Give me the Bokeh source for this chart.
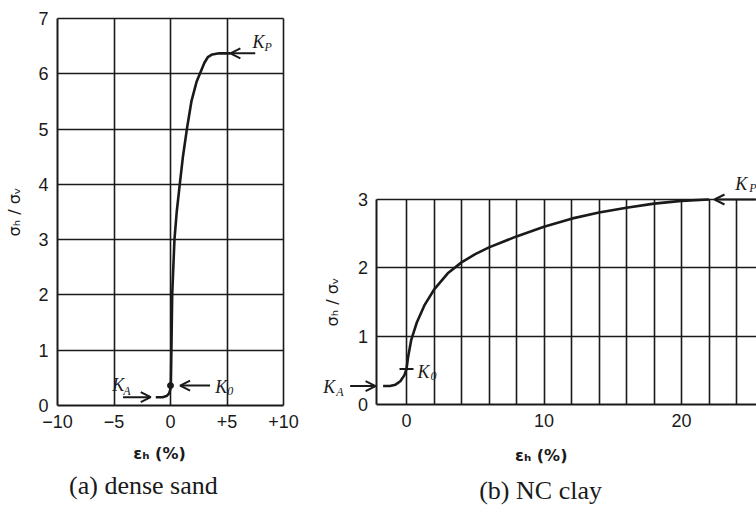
from bokeh.plotting import figure
from bokeh.layouts import row
from bokeh.models import FixedTicker, Label, Arrow, OpenHead, Range1d, Grid
from bokeh.embed import file_html
from bokeh.resources import INLINE

# ---------------- data ----------------
# (a) dense sand
sand_strain = [-1.3, -0.7, -0.35, -0.12, 0.0, 0.03, 0.08, 0.15, 0.25, 0.35,
               0.55, 0.82, 1.1, 1.45, 1.85, 2.3, 2.7, 3.0, 3.3, 3.7, 4.3, 5.3]
sand_ratio = [0.15, 0.15, 0.17, 0.22, 0.30, 0.36, 1.0, 2.0, 2.5, 3.0,
              3.5, 4.0, 4.5, 5.0, 5.5, 5.85, 6.05, 6.2, 6.3, 6.35, 6.37, 6.37]
sand_K0 = [0.0, 0.36]
sand_KA = 0.15
sand_KP = 6.37
sand_x_ticks = [-10, -5, 0, 5, 10]
sand_x_tick_labels = ["\u221210", "\u22125", "0", "+5", "+10"]
sand_y_ticks = [0, 1, 2, 3, 4, 5, 6, 7]

# (b) NC clay
clay_strain = [-1.7, -1.2, -0.8, -0.45, -0.15, 0.0, 0.12, 0.35, 0.75, 1.3,
               2.0, 3.0, 4.0, 5.0, 6.0, 8.0, 10.0, 12.0, 14.0, 16.0, 18.0, 20.0, 22.0]
clay_ratio = [0.27, 0.27, 0.29, 0.34, 0.43, 0.52, 0.70, 0.95, 1.2, 1.45,
              1.68, 1.92, 2.08, 2.2, 2.3, 2.46, 2.6, 2.72, 2.81, 2.88, 2.94, 2.98, 3.0]
clay_K0 = [0.0, 0.52]
clay_KA = 0.27
clay_KP = 3.0
clay_x_ticks = [0, 10, 20]
clay_x_grid = [0, 2, 4, 6, 8, 10, 12, 14, 16, 18, 20, 22, 24]
clay_y_ticks = [0, 1, 2, 3]
clay_x_min = -2.15

INK = "#1a1a1a"
TICK_FONT = "Liberation Sans"
SERIF = "Liberation Serif"
AX_FONT = "DejaVu Sans"
HAS_CROSS = "cross_bounds" in Grid.properties()


def style_axes(p):
    for ax in (p.xaxis[0], p.yaxis[0]):
        ax.major_tick_line_color = None
        ax.minor_tick_line_color = None
        ax.major_tick_out = 0
        ax.major_tick_in = 0
        ax.minor_tick_out = 0
        ax.minor_tick_in = 0
        ax.axis_line_color = INK
        ax.axis_line_width = 2
        ax.major_label_text_font = TICK_FONT
        ax.major_label_text_font_size = "18px"
        ax.major_label_text_color = INK
        ax.axis_label_text_font = AX_FONT
        ax.axis_label_text_font_size = "16px"
        ax.axis_label_text_font_style = "normal"
        ax.axis_label_text_color = INK
    p.xaxis.major_label_standoff = 9
    p.yaxis.major_label_standoff = 9
    p.outline_line_color = None


def grid_lines(p, xticks, yticks, xb, yb):
    if HAS_CROSS:
        p.xgrid.ticker = FixedTicker(ticks=xticks)
        p.ygrid.ticker = FixedTicker(ticks=yticks)
        p.xgrid.bounds = xb
        p.ygrid.bounds = yb
        p.xgrid.cross_bounds = yb
        p.ygrid.cross_bounds = xb
        for g in (p.xgrid, p.ygrid):
            g.grid_line_color = INK
            g.grid_line_width = 1.6
            g.grid_line_alpha = 1
    else:
        p.xgrid.visible = False
        p.ygrid.visible = False
        p.segment(x0=xticks, y0=[yb[0]] * len(xticks), x1=xticks, y1=[yb[1]] * len(xticks),
                  line_color=INK, line_width=1.6)
        p.segment(x0=[xb[0]] * len(yticks), y0=yticks, x1=[xb[1]] * len(yticks), y1=yticks,
                  line_color=INK, line_width=1.6)


def k_label(p, x, y, sub, size="18px", sub_size="12px", dx=12, dy=-5):
    p.add_layout(Label(x=x, y=y, text="K", text_font=SERIF, text_font_style="italic",
                       text_font_size=size, text_color=INK, text_align="left",
                       text_baseline="middle"))
    p.add_layout(Label(x=x, y=y, x_offset=dx, y_offset=dy, text=sub, text_font=SERIF,
                       text_font_style="italic", text_font_size=sub_size, text_color=INK,
                       text_align="left", text_baseline="middle"))


def arrow(p, x0, x1, y):
    p.add_layout(Arrow(end=OpenHead(size=10, line_width=2, line_color=INK),
                       x_start=x0, y_start=y, x_end=x1, y_end=y,
                       line_width=2, line_color=INK))


def text(p, x, y, s, font, size, style="normal"):
    p.add_layout(Label(x=x, y=y, text=s, text_font=font, text_font_size=size,
                       text_font_style=style, text_color=INK, text_align="center",
                       text_baseline="middle"))


# ---------------- (a) dense sand ----------------
# frame fills the whole canvas; axes are pinned at the data edges
pa = figure(width=320, height=508,
            x_range=Range1d(-10 - 57 / 11.3, 10 + 37 / 11.3),
            y_range=Range1d(-103 / 55.286, 7 + 18 / 55.286),
            output_backend="svg", toolbar_location=None,
            min_border_left=0, min_border_right=0, min_border_top=0, min_border_bottom=0,
            background_fill_color="white", border_fill_color="white")
pa.frame_align = False
style_axes(pa)
pa.xaxis.fixed_location = 0
pa.yaxis.fixed_location = sand_x_ticks[0]
pa.xaxis.bounds = (sand_x_ticks[0], sand_x_ticks[-1])
pa.yaxis.bounds = (sand_y_ticks[0], sand_y_ticks[-1])
pa.xaxis.ticker = FixedTicker(ticks=sand_x_ticks)
pa.xaxis.major_label_overrides = {t: l for t, l in zip(sand_x_ticks, sand_x_tick_labels)}
pa.yaxis.ticker = FixedTicker(ticks=sand_y_ticks)
pa.yaxis.axis_label = "\u03c3\u2095 / \u03c3\u1d65"
pa.yaxis.axis_label_standoff = 11
grid_lines(pa, sand_x_ticks[1:], sand_y_ticks[1:],
           (sand_x_ticks[0], sand_x_ticks[-1]), (sand_y_ticks[0], sand_y_ticks[-1]))

pa.line(sand_strain, sand_ratio, line_color=INK, line_width=2.6)
pa.scatter([sand_K0[0]], [sand_K0[1]], size=6, color=INK)

arrow(pa, 7.5, 5.3, sand_KP)
arrow(pa, 3.5, 0.85, sand_K0[1])
arrow(pa, -4.2, -1.75, sand_KA)
k_label(pa, 7.25, 6.57, "P")
k_label(pa, 3.95, 0.33, "0", dx=12, dy=-4)
k_label(pa, -5.15, 0.37, "A", dx=11, dy=-6)

text(pa, -0.97, -0.87, "\u03b5\u2095 (%)", AX_FONT, "16px", "bold")
text(pa, -2.4, -1.45, "(a) dense sand", SERIF, "26px")

# ---------------- (b) NC clay ----------------
pb = figure(width=436, height=508,
            x_range=Range1d(-86 / 13.75, 350 / 13.75),
            y_range=Range1d(-104 / 68.333, 404 / 68.333),
            output_backend="svg", toolbar_location=None,
            min_border_left=0, min_border_right=0, min_border_top=0, min_border_bottom=0,
            background_fill_color="white", border_fill_color="white")
pb.frame_align = False
style_axes(pb)
x_end_b = 350 / 13.75
pb.xaxis.fixed_location = 0
pb.yaxis.fixed_location = clay_x_min
pb.xaxis.bounds = (clay_x_min, x_end_b)
pb.yaxis.bounds = (clay_y_ticks[0], clay_y_ticks[-1])
pb.xaxis.ticker = FixedTicker(ticks=clay_x_ticks)
pb.yaxis.ticker = FixedTicker(ticks=clay_y_ticks)
pb.yaxis.axis_label = "\u03c3\u2095 / \u03c3\u1d65"
pb.yaxis.axis_label_standoff = 12
grid_lines(pb, clay_x_grid, clay_y_ticks[1:],
           (clay_x_min, x_end_b), (clay_y_ticks[0], clay_y_ticks[-1]))

pb.line(clay_strain, clay_ratio, line_color=INK, line_width=2.6)
pb.scatter([clay_K0[0]], [clay_K0[1]], marker="dash", size=14, line_width=2, color=INK)

arrow(pb, 25.4, 22.4, clay_KP)
arrow(pb, -4.1, -2.25, clay_KA)
k_label(pb, 23.9, 3.23, "P", dx=14, dy=-4)
k_label(pb, 0.8, 0.47, "0", dx=13, dy=-4)
k_label(pb, -6.05, 0.25, "A", dx=13, dy=-5)

text(pb, 9.8, -0.75, "\u03b5\u2095 (%)", AX_FONT, "16px", "bold")
text(pb, 9.75, -1.26, "(b) NC clay", SERIF, "26px")

layout = row(pa, pb)
open("out.html", "w").write(file_html(layout, INLINE))
